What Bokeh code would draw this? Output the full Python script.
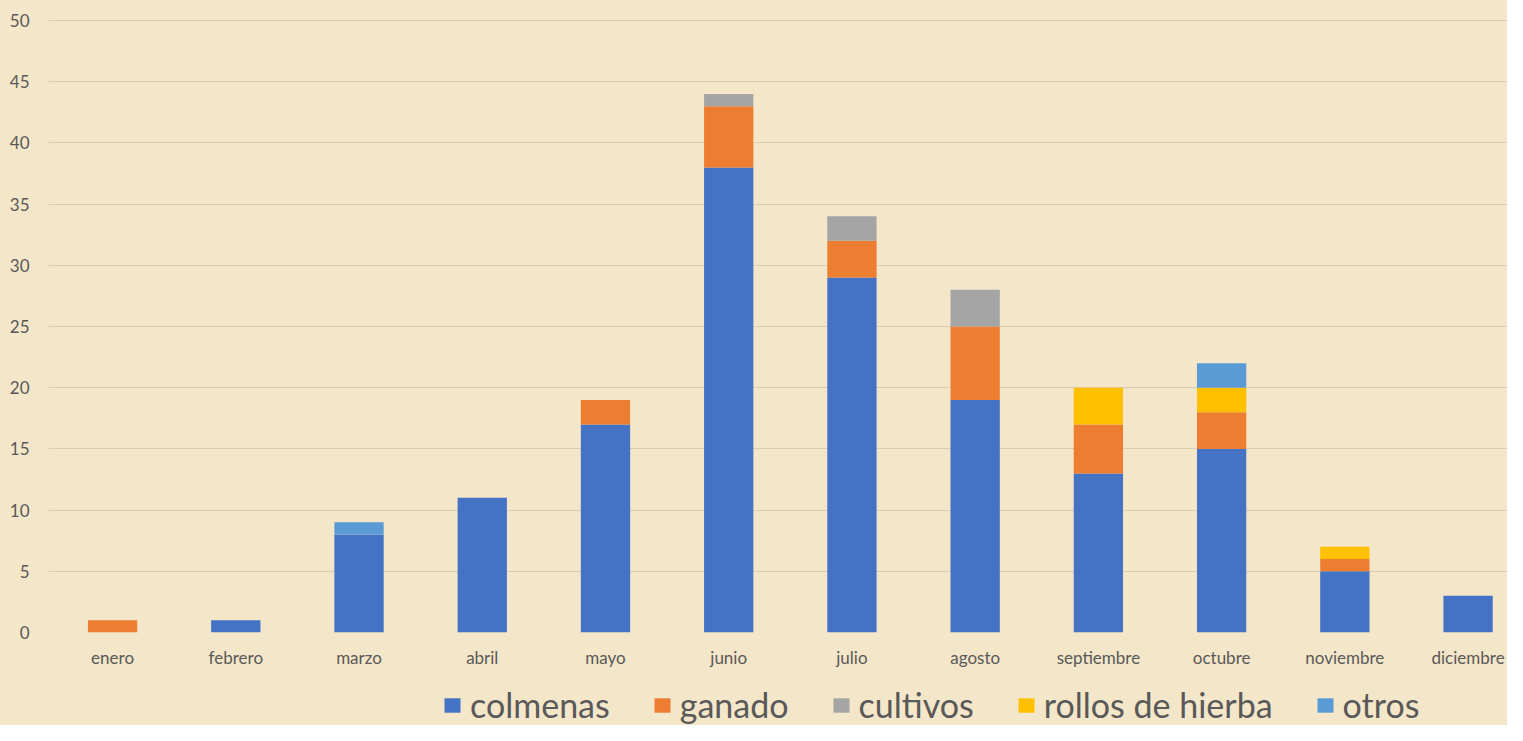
from bokeh.plotting import figure
from bokeh.layouts import column
from bokeh.models import Range1d, FixedTicker, Legend, LegendItem, ColumnDataSource
from bokeh.embed import file_html
from bokeh.resources import INLINE

months = ["enero", "febrero", "marzo", "abril", "mayo", "junio", "julio",
          "agosto", "septiembre", "octubre", "noviembre", "diciembre"]
colmenas = [0, 1, 8, 11, 17, 38, 29, 19, 13, 15, 5, 3]
ganado = [1, 0, 0, 0, 2, 5, 3, 6, 4, 3, 1, 0]
cultivos = [0, 0, 0, 0, 0, 1, 2, 3, 0, 0, 0, 0]
rollos = [0, 0, 0, 0, 0, 0, 0, 0, 3, 2, 1, 0]
otros = [0, 0, 1, 0, 0, 0, 0, 0, 0, 2, 0, 0]
series_names = ["colmenas", "ganado", "cultivos", "rollos de hierba", "otros"]
series_keys = ["colmenas", "ganado", "cultivos", "rollos", "otros"]
colors = ["#4472C4", "#ED7D31", "#A5A5A5", "#FFC000", "#5B9BD5"]
y_ticks = list(range(0, 51, 5))

BG = "#F4E6C8"
FONT = "Lato"
TXT = "#595959"

src = ColumnDataSource(dict(x=list(range(len(months))), colmenas=colmenas, ganado=ganado,
                            cultivos=cultivos, rollos=rollos, otros=otros))

p = figure(width=1507, height=679, output_backend="svg", toolbar_location=None,
           x_range=Range1d(-0.52, 11.32), y_range=Range1d(0, 50.49),
           min_border_left=48, min_border_right=0, min_border_top=14, min_border_bottom=47)

p.vbar_stack(series_keys, x="x", width=0.4, source=src, color=colors, line_color=None)

p.background_fill_color = None
p.border_fill_color = BG
p.outline_line_color = None

p.xgrid.grid_line_color = None
p.ygrid.ticker = FixedTicker(ticks=y_ticks)
p.ygrid.grid_line_color = "#DCCBB4"
p.ygrid.grid_line_width = 1

p.yaxis.ticker = FixedTicker(ticks=y_ticks)
p.yaxis.axis_line_color = None
p.yaxis.major_tick_line_color = None
p.yaxis.minor_tick_line_color = None
p.yaxis.major_label_text_font = FONT
p.yaxis.major_label_text_font_size = "17px"
p.yaxis.major_label_text_color = TXT
p.yaxis.major_label_standoff = 13

p.xaxis.ticker = FixedTicker(ticks=list(range(len(months))))
p.xaxis.major_label_overrides = {i: m for i, m in enumerate(months)}
p.xaxis.axis_line_color = None
p.xaxis.major_tick_line_color = None
p.xaxis.minor_tick_line_color = None
p.xaxis.major_label_text_font = FONT
p.xaxis.major_label_text_font_size = "17px"
p.xaxis.major_label_text_color = TXT
p.xaxis.major_label_standoff = 8

# legend strip below the chart
lg = figure(width=1507, height=46, output_backend="svg", toolbar_location=None,
            x_range=Range1d(0, 1), y_range=Range1d(0, 1),
            min_border_left=0, min_border_right=0, min_border_top=0, min_border_bottom=0)
lg.axis.visible = False
lg.grid.visible = False
lg.background_fill_color = None
lg.border_fill_color = BG
lg.outline_line_color = None
dummy = [lg.vbar(x=[5], top=[5], bottom=[4], width=1, color=c, line_color=None) for c in colors]
items = [LegendItem(label=n, renderers=[r]) for n, r in zip(series_names, dummy)]
legend = Legend(items=items, orientation="horizontal", location=(394, 0),
                label_text_font=FONT, label_text_font_size="34px",
                label_text_color=TXT, glyph_width=20, glyph_height=18,
                label_standoff=8, spacing=42, padding=0, margin=0,
                background_fill_alpha=0, border_line_color=None)
lg.add_layout(legend, "center")

layout = column(p, lg, spacing=0, background=BG)
open("out.html", "w").write(file_html(layout, INLINE))
